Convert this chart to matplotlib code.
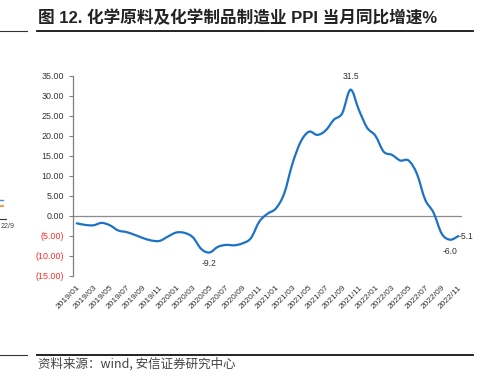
import matplotlib
matplotlib.use("Agg")
import matplotlib.pyplot as plt
from matplotlib.path import Path
from matplotlib.patches import PathPatch
from matplotlib.lines import Line2D

plt.rcParams['font.family'] = ['Liberation Sans', 'Noto Sans CJK SC', 'DejaVu Sans']

# ---------------- data ----------------
months = [f"{y}/{m:02d}" for y in range(2019, 2023) for m in range(1, 13)][:47]
values = [-1.9, -2.3, -2.4, -1.8, -2.4, -3.7, -4.1, -4.8, -5.6, -6.2, -6.3, -5.2,
          -4.2, -4.3, -5.4, -8.3, -9.2, -7.8, -7.3, -7.4, -6.9, -5.6, -1.5, 0.5,
          1.8, 5.5, 13.0, 18.5, 21.0, 20.2, 21.3, 24.0, 25.6, 31.5, 26.5, 22.0,
          20.0, 16.0, 15.2, 13.8, 13.8, 10.5, 4.0, 0.8, -4.5, -6.0, -5.1]
yticks = [35, 30, 25, 20, 15, 10, 5, 0, -5, -10, -15]
labeled = {"2020/05": "-9.2", "2021/10": "31.5", "2022/10": "-6.0", "2022/11": "-5.1"}
title = "图 12. 化学原料及化学制品制造业 PPI 当月同比增速%"
source = "资料来源：wind, 安信证券研究中心"

W, H = 489, 388
fig = plt.figure(figsize=(W / 100, H / 100), dpi=100)
fig.patch.set_facecolor('white')

left, right, top, bottom = 72.6, 462.5, 75.7, 275.7
ax = fig.add_axes([left / W, 1 - bottom / H, (right - left) / W, (bottom - top) / H])

xs = list(range(len(values)))

# smoothed line (Bezier through data points, Excel-like)
verts = [(xs[0], values[0])]
codes = [Path.MOVETO]
n = len(values)
for i in range(n - 1):
    p0 = (xs[i - 1], values[i - 1]) if i > 0 else (xs[i], values[i])
    p1 = (xs[i], values[i])
    p2 = (xs[i + 1], values[i + 1])
    p3 = (xs[i + 2], values[i + 2]) if i + 2 < n else p2
    c1 = (p1[0] + (p2[0] - p0[0]) / 6, p1[1] + (p2[1] - p0[1]) / 6)
    c2 = (p2[0] - (p3[0] - p1[0]) / 6, p2[1] - (p3[1] - p1[1]) / 6)
    verts += [c1, c2, p2]
    codes += [Path.CURVE4] * 3
ax.add_patch(PathPatch(Path(verts, codes), fill=False, edgecolor='#1C72C8',
                       lw=1.6, transform=ax.transData, zorder=3, capstyle='round'))

ax.axhline(0, color='#8C8C8C', lw=0.9, zorder=2)

ax.set_xlim(-0.5, len(values) - 0.5)
ax.set_ylim(-15, 35)
ax.set_yticks(yticks)
ax.set_yticklabels([f"{v:.2f}" if v >= 0 else f"({abs(v):.2f})" for v in yticks])
for lab, v in zip(ax.get_yticklabels(), yticks):
    lab.set_color('#FF2A2A' if v < 0 else '#333333')
ax.tick_params(axis='y', direction='out', length=3, width=0.8, color='#808080',
               labelsize=6.4, pad=3)

ax.set_xticks(xs[::2])
ax.set_xticklabels(months[::2], rotation=45, ha='right', va='top',
                   rotation_mode='anchor', fontsize=6, color='#333333')
ax.tick_params(axis='x', length=0, pad=6)

for s in ['top', 'right', 'bottom']:
    ax.spines[s].set_visible(False)
ax.spines['left'].set_color('#808080')
ax.spines['left'].set_linewidth(0.9)

# data labels
for m, txt in labeled.items():
    i = months.index(m)
    v = values[i]
    if m == "2021/10":
        ax.annotate(txt, (i, v), xytext=(0, 6), textcoords='offset points',
                    ha='center', va='bottom', fontsize=6.2, color='#333333')
    elif m == "2022/11":
        ax.annotate(txt, (i, v), xytext=(0.5, 0), textcoords='offset points',
                    ha='left', va='center', fontsize=6.2, color='#333333')
    else:
        ax.annotate(txt, (i, v), xytext=(0, -5), textcoords='offset points',
                    ha='center', va='top', fontsize=6.2, color='#333333')

# title and rules
fig.text(38 / W, 1 - 18 / H, title, fontsize=12, fontweight='bold',
         family=['Liberation Sans', 'Noto Sans CJK SC'], color='#222222',
         ha='left', va='center')
fig.add_artist(Line2D([37 / W, 473 / W], [1 - 30.5 / H] * 2, color='#111111', lw=1.3))
fig.add_artist(Line2D([0, 27 / W], [1 - 30.5 / H] * 2, color='#333333', lw=0.8))
fig.add_artist(Line2D([37 / W, 473 / W], [1 - 354.5 / H] * 2, color='#111111', lw=1.3))
fig.add_artist(Line2D([0, 27 / W], [1 - 354.5 / H] * 2, color='#333333', lw=0.8))
fig.text(38 / W, 1 - 364 / H, source, fontsize=9, color='#444444', style='italic',
         family=['Noto Sans CJK SC', 'DejaVu Sans'], ha='left', va='center')

# cut-off fragments of neighbouring chart at the left edge
fig.add_artist(Line2D([0, 3 / W], [1 - 200 / H] * 2, color='#4A90D9', lw=1.0))
fig.add_artist(Line2D([0, 3 / W], [1 - 206 / H] * 2, color='#F0A050', lw=1.5))
fig.add_artist(Line2D([0, 6 / W], [1 - 219 / H] * 2, color='#333333', lw=0.8))
fig.text(0.5 / W, 1 - 227 / H, "22/9", fontsize=5, color='#444444', ha='left', va='center')

fig.savefig("out.png", dpi=100, facecolor='white')
